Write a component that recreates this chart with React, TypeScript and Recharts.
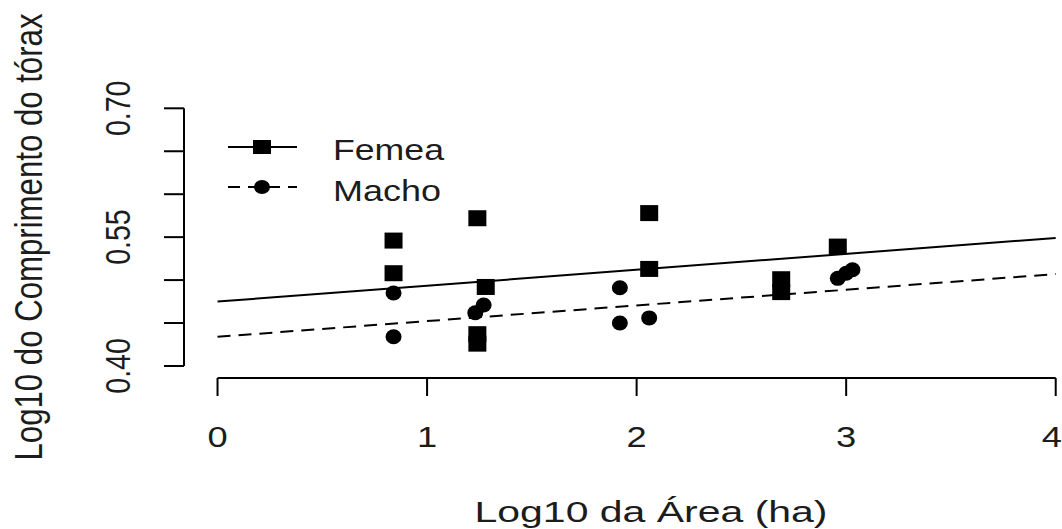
import { ComposedChart, Scatter, XAxis, YAxis, ReferenceLine, Legend } from 'recharts'

// values
const femeaX = [0.84, 0.84, 1.24, 1.28, 1.24, 1.24, 2.06, 2.06, 2.69, 2.69, 2.96]
const femeaY = [0.546, 0.508, 0.572, 0.492, 0.437, 0.426, 0.578, 0.513, 0.501, 0.486, 0.539]
const machoX = [0.84, 0.84, 1.27, 1.23, 1.92, 1.92, 2.06, 2.96, 3.0, 3.03]
const machoY = [0.485, 0.434, 0.471, 0.462, 0.491, 0.45, 0.456, 0.502, 0.508, 0.512]

const fitX = [0, 4]
const femeaFit = [0.475, 0.549]
const machoFit = [0.434, 0.507]

const xTicks = [0, 1, 2, 3, 4]
const yTicks = [0.4, 0.45, 0.5, 0.55, 0.6, 0.65, 0.7]
const yLabels = ['0.40', '0.55', '0.70']

const xTitle = 'Log10 da Área (ha)'
const yTitle = 'Log10 do Comprimento do tórax'

const toPoints = (xs: number[], ys: number[]) => xs.map((x, i) => ({ x, y: ys[i] }))

const femea = toPoints(femeaX, femeaY)
const macho = toPoints(machoX, machoY)
const femeaLine = toPoints(fitX, femeaFit)
const machoLine = toPoints(fitX, machoFit)

const FONT = "'Liberation Sans', Arial, sans-serif"
const INK = '#000'
const TXT = '#1c1c1c'
// the source image is stretched sideways a little
const SX = 1.25

const Square = (p: any) => <rect x={p.cx - 9} y={p.cy - 8} width={18} height={16} fill={INK} />
const Dot = (p: any) => <ellipse cx={p.cx} cy={p.cy} rx={8} ry={7.5} fill={INK} />
const Nothing = () => <g />

function XTick({ x, payload }: any) {
  // last label sits on the right edge, nudge it in so it is not clipped
  const nudge = payload.value === xTicks[xTicks.length - 1] ? -4 : 0
  return (
    <text transform={`translate(${x + nudge}, 447) scale(${SX}, 1)`} textAnchor="middle"
      fontSize={29} fontFamily={FONT} fill={TXT}>
      {payload.value}
    </text>
  )
}

function YTick({ y, payload }: any) {
  const label = yLabels.find(l => Math.abs(parseFloat(l) - payload.value) < 1e-6)
  if (!label) return <g />
  return (
    <text transform={`translate(130, ${y}) scale(${SX}, 1) rotate(-90)`} textAnchor="middle"
      fontSize={28.5} fontFamily={FONT} fill={TXT}>
      {label}
    </text>
  )
}

function LegendBox() {
  return (
    <svg width={260} height={90} style={{ display: 'block' }}>
      <line x1={3} x2={72} y1={25} y2={25} stroke={INK} strokeWidth={2} />
      <rect x={28} y={18} width={18} height={14} fill={INK} />
      <text x={108} y={38} fontSize={30} fontFamily={FONT} fill={TXT}
        textLength={111} lengthAdjust="spacingAndGlyphs">Femea</text>
      <line x1={3} x2={72} y1={65} y2={65} stroke={INK} strokeWidth={2} strokeDasharray="12 8" />
      <ellipse cx={37} cy={65} rx={8} ry={7} fill={INK} />
      <text x={108} y={79} fontSize={30} fontFamily={FONT} fill={TXT}
        textLength={108} lengthAdjust="spacingAndGlyphs">Macho</text>
    </svg>
  )
}

export default function App() {
  return (
    <div style={{ position: 'absolute', left: 0, top: 0, background: '#fff' }}>
      <ComposedChart width={1062} height={529} margin={{ top: 98, right: 0, bottom: 0, left: 0 }}>
        <XAxis
          type="number"
          dataKey="x"
          domain={[-0.16, 4.03]}
          allowDataOverflow
          ticks={xTicks}
          interval={0}
          axisLine={false}
          tickLine={{ stroke: INK, strokeWidth: 2 }}
          tickSize={18}
          tick={<XTick />}
          height={151}
          label={() => (
            <text x={651} y={522} textAnchor="middle" fontSize={29} fontFamily={FONT} fill={TXT}
              textLength={353} lengthAdjust="spacingAndGlyphs">{xTitle}</text>
          )}
        />
        <YAxis
          type="number"
          dataKey="y"
          domain={[0.386, 0.712]}
          allowDataOverflow
          ticks={yTicks}
          interval={0}
          axisLine={false}
          tickLine={{ stroke: INK, strokeWidth: 2 }}
          tickSize={20}
          tick={<YTick />}
          width={184}
          label={() => (
            <text transform={`translate(42, 237) scale(${SX}, 1) rotate(-90)`} textAnchor="middle"
              fontSize={31} fontFamily={FONT} fill={TXT}
              textLength={447} lengthAdjust="spacingAndGlyphs">{yTitle}</text>
          )}
        />
        <ReferenceLine segment={[{ x: 0, y: 0.386 }, { x: 4, y: 0.386 }]} stroke={INK} strokeWidth={2} ifOverflow="visible" />
        <ReferenceLine segment={[{ x: -0.16, y: 0.4 }, { x: -0.16, y: 0.7 }]} stroke={INK} strokeWidth={2} ifOverflow="visible" />
        <Scatter data={femeaLine} line={{ stroke: INK, strokeWidth: 2 }} shape={Nothing} isAnimationActive={false} />
        <Scatter data={machoLine} line={{ stroke: INK, strokeWidth: 2, strokeDasharray: '13 8' }} shape={Nothing} isAnimationActive={false} />
        <Scatter data={femea} shape={Square} isAnimationActive={false} />
        <Scatter data={macho} shape={Dot} isAnimationActive={false} />
        <Legend
          layout="horizontal"
          verticalAlign="middle"
          align="center"
          wrapperStyle={{ left: 225, top: 122, width: 260, height: 90 }}
          content={() => <LegendBox />}
        />
      </ComposedChart>
    </div>
  )
}
